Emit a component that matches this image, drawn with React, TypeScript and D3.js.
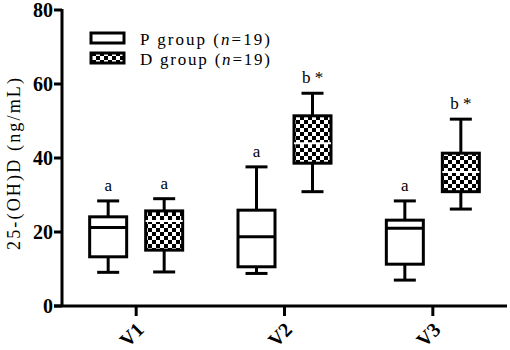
import React, { useEffect, useRef } from 'react'
import * as d3 from 'd3'

const visits = ['V1', 'V2', 'V3']
const yTicks = [0, 20, 40, 60, 80]

// [whisker low, q1, median, q3, whisker high]
const pGroup = [
  [9.1, 13.3, 21.2, 24.1, 28.4],
  [8.8, 10.6, 18.7, 25.9, 37.6],
  [7.0, 11.3, 21.0, 23.2, 28.4],
]
const dGroup = [
  [9.2, 15.1, 23.0, 25.7, 29.0],
  [30.9, 38.6, 44.0, 51.4, 57.5],
  [26.2, 30.9, 36.2, 41.3, 50.5],
]
const pLabels = ['a', 'a', 'a']
const dLabels = ['a', 'b *', 'b *']

const font = '"Liberation Serif", "Times New Roman", serif'

const App = () => {
  const svgRef = useRef<SVGSVGElement>(null)

  useEffect(() => {
    const svg = d3.select(svgRef.current)
    svg.selectAll('*').remove()

    const left = 62
    const right = 507
    const top = 10
    const bottom = 306

    const x = d3.scalePoint().domain(visits).range([left, right]).padding(0.5)
    const y = d3.scaleLinear().domain([0, 80]).range([bottom, top])

    // checker pattern
    const pat = svg
      .append('defs')
      .append('pattern')
      .attr('id', 'checker')
      .attr('width', 8)
      .attr('height', 8)
      .attr('patternUnits', 'userSpaceOnUse')
    pat.append('rect').attr('width', 8).attr('height', 8).attr('fill', 'white')
    pat.append('rect').attr('width', 4).attr('height', 4).attr('fill', 'black')
    pat.append('rect').attr('x', 4).attr('y', 4).attr('width', 4).attr('height', 4).attr('fill', 'black')

    const g = svg.append('g')

    // y axis
    g.append('line')
      .attr('x1', left).attr('x2', left)
      .attr('y1', top - 1).attr('y2', bottom)
      .style('stroke', 'black').style('stroke-width', 3)
    yTicks.forEach((t) => {
      g.append('line')
        .attr('x1', left - 8).attr('x2', left)
        .attr('y1', y(t)).attr('y2', y(t))
        .style('stroke', 'black').style('stroke-width', 3)
      g.append('text')
        .attr('x', left - 9)
        .attr('y', y(t))
        .attr('dy', '0.35em')
        .style('text-anchor', 'end')
        .style('font', `bold 20px ${font}`)
        .text(t)
    })

    // x axis
    g.append('line')
      .attr('x1', left - 8).attr('x2', right)
      .attr('y1', bottom).attr('y2', bottom)
      .style('stroke', 'black').style('stroke-width', 3)
    visits.forEach((v) => {
      const cx = x(v) as number
      g.append('line')
        .attr('x1', cx).attr('x2', cx)
        .attr('y1', bottom).attr('y2', bottom + 10)
        .style('stroke', 'black').style('stroke-width', 3)
      g.append('text')
        .attr('transform', `translate(${cx + 4}, ${bottom + 20}) rotate(-45)`)
        .style('text-anchor', 'end')
        .attr('dy', '0.35em')
        .style('font', `bold 20px ${font}`)
        .text(v)
    })

    // y label
    g.append('text')
      .attr('transform', `translate(20, ${y(40) + 6}) rotate(-90)`)
      .style('text-anchor', 'middle')
      .style('font', `18px ${font}`)
      .attr('textLength', 172)
      .text('25-(OH)D  (ng/mL)')

    const boxW = 37
    const capW = 22
    const drawBox = (cx: number, d: number[], fill: string, label: string) => {
      const [lo, q1, med, q3, hi] = d
      g.append('line')
        .attr('x1', cx).attr('x2', cx)
        .attr('y1', y(hi)).attr('y2', y(lo))
        .style('stroke', 'black').style('stroke-width', 3)
      ;[lo, hi].forEach((w) => {
        g.append('line')
          .attr('x1', cx - capW / 2).attr('x2', cx + capW / 2)
          .attr('y1', y(w)).attr('y2', y(w))
          .style('stroke', 'black').style('stroke-width', 3)
      })
      g.append('rect')
        .attr('x', cx - boxW / 2)
        .attr('y', y(q3))
        .attr('width', boxW)
        .attr('height', y(q1) - y(q3))
        .style('fill', fill)
        .style('stroke', 'black')
        .style('stroke-width', 3)
      g.append('line')
        .attr('x1', cx - boxW / 2).attr('x2', cx + boxW / 2)
        .attr('y1', y(med)).attr('y2', y(med))
        .style('stroke', fill === 'white' ? 'black' : 'white')
        .style('stroke-width', fill === 'white' ? 3 : 2)
      g.append('text')
        .attr('x', cx)
        .attr('y', y(hi) - 10)
        .style('text-anchor', 'middle')
        .style('font', `17px ${font}`)
        .text(label)
    }

    visits.forEach((v, i) => {
      const cx = x(v) as number
      drawBox(cx - 28, pGroup[i], 'white', pLabels[i])
      drawBox(cx + 28, dGroup[i], 'url(#checker)', dLabels[i])
    })

    // legend
    const legend = [
      { fill: 'white', label: 'P group (' },
      { fill: 'url(#checker)', label: 'D group (' },
    ]
    legend.forEach((l, i) => {
      const ly = 33 + i * 20
      g.append('rect')
        .attr('x', 91).attr('y', ly)
        .attr('width', 33).attr('height', 10)
        .style('fill', l.fill)
        .style('stroke', 'black')
        .style('stroke-width', 3)
      const t = g.append('text')
        .attr('x', 140).attr('y', ly + 12)
        .style('font', `17px ${font}`)
        .attr('textLength', 130)
      t.append('tspan').text(l.label)
      t.append('tspan').style('font-style', 'italic').text('n')
      t.append('tspan').text('=19)')
    })
  }, [])

  return <svg ref={svgRef} width={510} height={350} style={{ position: 'absolute', left: 0, top: 0 }}></svg>
}

export default App
